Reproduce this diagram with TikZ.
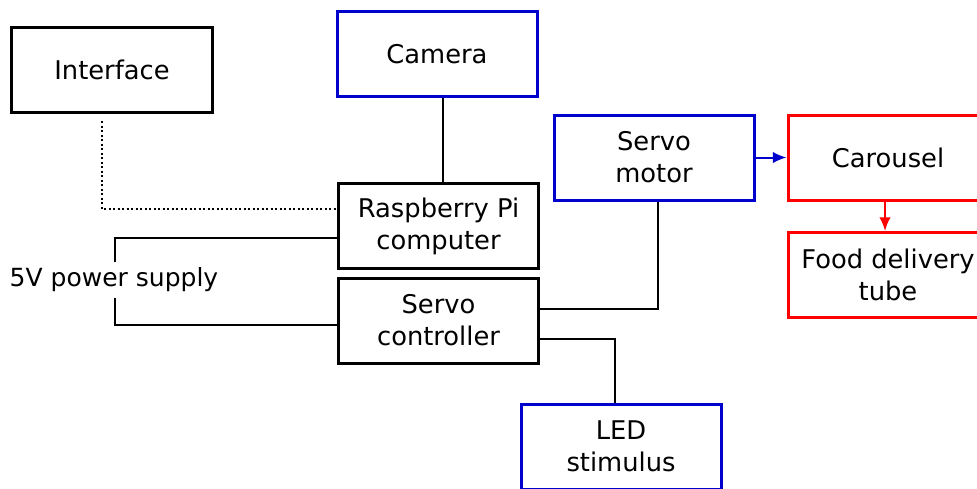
\documentclass[tikz,border=0pt]{standalone}
\usepackage{fontspec}
\setmainfont{DejaVu Sans}
\usepackage{tikz}
\usetikzlibrary{arrows.meta}
\definecolor{boxblue}{RGB}{0,0,204}
\definecolor{boxred}{RGB}{255,0,0}
\tikzset{
  block/.style={draw, line width=1.2pt, minimum width=80pt, minimum height=34pt,
    align=center, inner sep=0pt, font=\fontsize{10.3}{12.8}\selectfont},
  link/.style={line width=0.8pt},
  flow/.style={line width=0.8pt, -{Latex[length=5.5pt, width=4.6pt]}},
}

\begin{document}
\begin{tikzpicture}[x=0.4pt, y=-0.4pt]
    \useasboundingbox (0,0) rectangle (977,488);

    \node(Iface)[block] at (112,69.5) {Interface};
    \node(Cam)[block, draw=boxblue] at (437,54) {Camera};
    \node(Motor)[block, draw=boxblue] at (654,157.5) {Servo\\motor};
    \node(Carousel)[block, draw=boxred] at (888,157.5) {Carousel};
    \node(Food)[block, draw=boxred] at (888,275) {Food delivery\\tube};
    \node(RPi)[block] at (438.5,226) {Raspberry Pi\\computer};
    \node(Ctrl)[block] at (438.5,320.5) {Servo\\controller};
    \node(LED)[block, draw=boxblue] at (621,446.5) {LED\\stimulus};
    \node(Supply)[inner sep=2pt, font=\fontsize{10}{12.8}\selectfont] at (114,280) {5V power supply};

    \draw[link, densely dotted] ([xshift=-4pt, yshift=-3pt]Iface.south) |- ([yshift=6.8pt]RPi.west);
    \draw[link] ([xshift=2.4pt]Cam.south) -- ([xshift=1.8pt]RPi.north);
    \draw[link] ([yshift=-4.8pt]RPi.west) -| ([xshift=0.4pt]Supply.north);
    \draw[link] ([yshift=-1.8pt]Ctrl.west) -| ([xshift=0.4pt]Supply.south);
    \draw[link] ([yshift=4.6pt]Ctrl.east) -| ([xshift=1.6pt]Motor.south);
    \draw[link] ([yshift=-7.4pt]Ctrl.east) -| ([xshift=-2.4pt]LED.north);
    \draw[flow, boxblue] (Motor.east) -- (Carousel.west);
    \draw[flow, boxred] ([xshift=-1.2pt]Carousel.south) -- ([xshift=-1.2pt]Food.north);
\end{tikzpicture}
\end{document}
